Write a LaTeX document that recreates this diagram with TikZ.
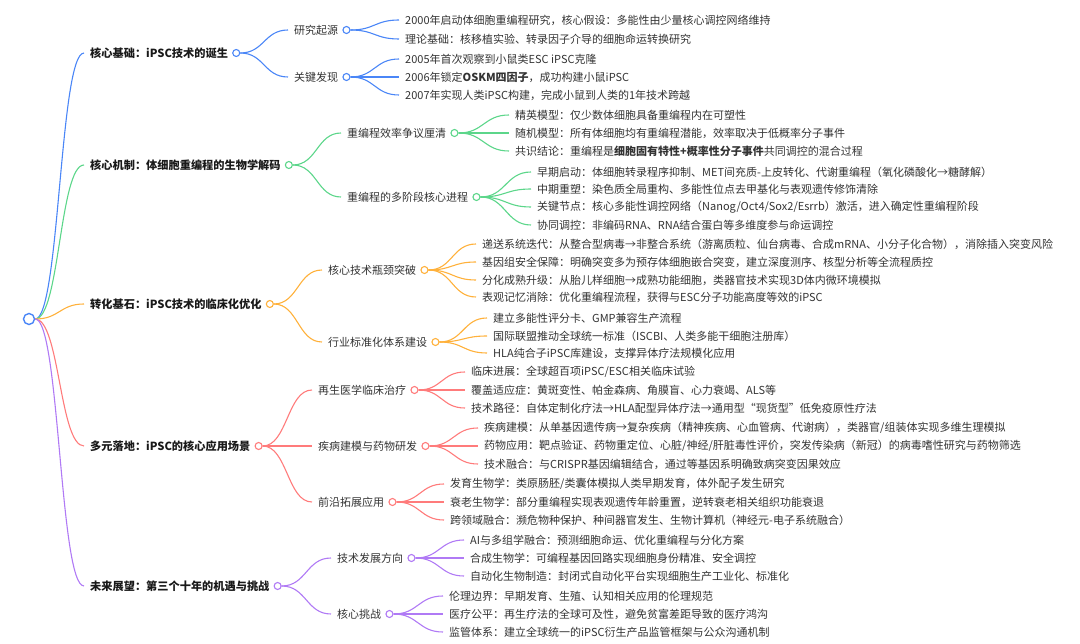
\documentclass[tikz,border=0pt]{standalone}
\usepackage{fontspec}
\setmainfont{Noto Sans CJK SC}
\usetikzlibrary{calc,positioning}
\definecolor{mmblue}{HTML}{4A86F7}
\definecolor{mmgreen}{HTML}{5CD68A}
\definecolor{mmorange}{HTML}{FFB13B}
\definecolor{mmred}{HTML}{FF7B7B}
\definecolor{mmpurple}{HTML}{B07AF5}
\def\lnk[#1](#2)(#3){\draw[#1, line width=1.1pt] let \p1=(#2.east), \p2=($(#3.west)+(-6,0)$) in (\p1) .. controls ({(\x1+\x2)/2},\y1) and ({(\x1+\x2)/2},\y2) .. (\p2);}

\begin{document}
\begin{tikzpicture}[x=1pt, y=-1pt,
	main/.style={anchor=west, inner xsep=0pt, inner ysep=1pt, text=black!90, font=\fontsize{11.2}{13}\selectfont\bfseries},
	sub/.style={anchor=west, inner xsep=0pt, inner ysep=1pt, text=black!80, font=\fontsize{11}{13}\selectfont},
	leaf/.style={anchor=west, inner xsep=0pt, inner ysep=1pt, text=black!80, font=\fontsize{11}{13}\selectfont},
	hub/.style={circle, draw, fill=white, line width=1.1pt, inner sep=0pt, minimum size=7pt}]
		%%%%% START %%%%%
		\useasboundingbox (0,0) rectangle (1080,644);
		
		\node[hub, draw=mmblue, minimum size=11pt, line width=1.4pt] (root) at (29,319) {};
		
		% core basis
		\node[main] (t1) at (90,53) {核心基础：iPSC技术的诞生};
		\node[hub, draw=mmblue, right=4pt of t1] (c1) {};
		\node[sub] (t11) at (294,30) {研究起源};
		\node[hub, draw=mmblue, right=4pt of t11] (c11) {};
		\node[leaf] (l111) at (405,20) {2000年启动体细胞重编程研究，核心假设：多能性由少量核心调控网络维持};
		\node[leaf] (l112) at (405,39) {理论基础：核移植实验、转录因子介导的细胞命运转换研究};
		\node[sub] (t12) at (294,77) {关键发现};
		\node[hub, draw=mmblue, right=4pt of t12] (c12) {};
		\node[leaf] (l121) at (405,59) {2005年首次观察到小鼠类ESC iPSC克隆};
		\node[leaf] (l122) at (405,77) {2006年锁定\textbf{OSKM四因子}，成功构建小鼠iPSC};
		\node[leaf] (l123) at (405,95) {2007年实现人类iPSC构建，完成小鼠到人类的1年技术跨越};
		
		\lnk[mmblue](root)(t1)
		\lnk[mmblue](c1)(t11)
		\lnk[mmblue](c1)(t12)
		\lnk[mmblue](c11)(l111)
		\lnk[mmblue](c11)(l112)
		\lnk[mmblue](c12)(l121)
		\lnk[mmblue](c12)(l122)
		\lnk[mmblue](c12)(l123)
		
		% core mechanism
		\node[main] (t2) at (90,165) {核心机制：体细胞重编程的生物学解码};
		\node[hub, draw=mmgreen, right=4pt of t2] (c2) {};
		\node[sub] (t21) at (347,133) {重编程效率争议厘清};
		\node[hub, draw=mmgreen, right=4pt of t21] (c21) {};
		\node[leaf] (l211) at (515,115) {精英模型：仅少数体细胞具备重编程内在可塑性};
		\node[leaf] (l212) at (515,133) {随机模型：所有体细胞均有重编程潜能，效率取决于低概率分子事件};
		\node[leaf] (l213) at (515,151) {共识结论：重编程是\textbf{细胞固有特性+概率性分子事件}共同调控的混合过程};
		\node[sub] (t22) at (347,197) {重编程的多阶段核心进程};
		\node[hub, draw=mmgreen, right=4pt of t22] (c22) {};
		\node[leaf] (l221) at (537,172) {早期启动：体细胞转录程序抑制、MET间充质-上皮转化、代谢重编程（氧化磷酸化→糖酵解）};
		\node[leaf] (l222) at (537,189) {中期重塑：染色质全局重构、多能性位点去甲基化与表观遗传修饰清除};
		\node[leaf] (l223) at (537,207) {关键节点：核心多能性调控网络（Nanog/Oct4/Sox2/Esrrb）激活，进入确定性重编程阶段};
		\node[leaf] (l224) at (537,225) {协同调控：非编码RNA、RNA结合蛋白等多维度参与命运调控};
		
		\lnk[mmgreen](root)(t2)
		\lnk[mmgreen](c2)(t21)
		\lnk[mmgreen](c2)(t22)
		\lnk[mmgreen](c21)(l211)
		\lnk[mmgreen](c21)(l212)
		\lnk[mmgreen](c21)(l213)
		\lnk[mmgreen](c22)(l221)
		\lnk[mmgreen](c22)(l222)
		\lnk[mmgreen](c22)(l223)
		\lnk[mmgreen](c22)(l224)
		
		% translation
		\node[main] (t3) at (90,304) {转化基石：iPSC技术的临床化优化};
		\node[hub, draw=mmorange, right=4pt of t3] (c3) {};
		\node[sub] (t31) at (328,270) {核心技术瓶颈突破};
		\node[hub, draw=mmorange, right=4pt of t31] (c31) {};
		\node[leaf] (l311) at (482,244) {递送系统迭代：从整合型病毒→非整合系统（游离质粒、仙台病毒、合成mRNA、小分子化合物），消除插入突变风险};
		\node[leaf] (l312) at (482,262) {基因组安全保障：明确突变多为预存体细胞嵌合突变，建立深度测序、核型分析等全流程质控};
		\node[leaf] (l313) at (482,280) {分化成熟升级：从胎儿样细胞→成熟功能细胞，类器官技术实现3D体内微环境模拟};
		\node[leaf] (l314) at (482,297) {表观记忆消除：优化重编程流程，获得与ESC分子功能高度等效的iPSC};
		\node[sub] (t32) at (328,342) {行业标准化体系建设};
		\node[hub, draw=mmorange, right=4pt of t32] (c32) {};
		\node[leaf] (l321) at (493,318) {建立多能性评分卡、GMP兼容生产流程};
		\node[leaf] (l322) at (493,336) {国际联盟推动全球统一标准（ISCBI、人类多能干细胞注册库）};
		\node[leaf] (l323) at (493,353) {HLA纯合子iPSC库建设，支撑异体疗法规模化应用};
		
		\lnk[mmorange](root)(t3)
		\lnk[mmorange](c3)(t31)
		\lnk[mmorange](c3)(t32)
		\lnk[mmorange](c31)(l311)
		\lnk[mmorange](c31)(l312)
		\lnk[mmorange](c31)(l313)
		\lnk[mmorange](c31)(l314)
		\lnk[mmorange](c32)(l321)
		\lnk[mmorange](c32)(l322)
		\lnk[mmorange](c32)(l323)
		
		% applications
		\node[main] (t4) at (90,446) {多元落地：iPSC的核心应用场景};
		\node[hub, draw=mmred, right=4pt of t4] (c4) {};
		\node[sub] (t41) at (318,390) {再生医学临床治疗};
		\node[hub, draw=mmred, right=4pt of t41] (c41) {};
		\node[leaf] (l411) at (471,372) {临床进展：全球超百项iPSC/ESC相关临床试验};
		\node[leaf] (l412) at (471,390) {覆盖适应症：黄斑变性、帕金森病、角膜盲、心力衰竭、ALS等};
		\node[leaf] (l413) at (471,408) {技术路径：自体定制化疗法→HLA配型异体疗法→通用型“现货型”低免疫原性疗法};
		\node[sub] (t42) at (318,446) {疾病建模与药物研发};
		\node[hub, draw=mmred, right=4pt of t42] (c42) {};
		\node[leaf] (l421) at (484,428) {疾病建模：从单基因遗传病→复杂疾病（精神疾病、心血管病、代谢病），类器官/组装体实现多维生理模拟};
		\node[leaf] (l422) at (484,446) {药物应用：靶点验证、药物重定位、心脏/神经/肝脏毒性评价，突发传染病（新冠）的病毒嗜性研究与药物筛选};
		\node[leaf] (l423) at (484,464) {技术融合：与CRISPR基因编辑结合，通过等基因系明确致病突变因果效应};
		\node[sub] (t43) at (318,502) {前沿拓展应用};
		\node[hub, draw=mmred, right=4pt of t43] (c43) {};
		\node[leaf] (l431) at (450,484) {发育生物学：类原肠胚/类囊体模拟人类早期发育，体外配子发生研究};
		\node[leaf] (l432) at (450,502) {衰老生物学：部分重编程实现表观遗传年龄重置，逆转衰老相关组织功能衰退};
		\node[leaf] (l433) at (450,520) {跨领域融合：濒危物种保护、种间器官发生、生物计算机（神经元-电子系统融合）};
		
		\lnk[mmred](root)(t4)
		\lnk[mmred](c4)(t41)
		\lnk[mmred](c4)(t42)
		\lnk[mmred](c4)(t43)
		\lnk[mmred](c41)(l411)
		\lnk[mmred](c41)(l412)
		\lnk[mmred](c41)(l413)
		\lnk[mmred](c42)(l421)
		\lnk[mmred](c42)(l422)
		\lnk[mmred](c42)(l423)
		\lnk[mmred](c43)(l431)
		\lnk[mmred](c43)(l432)
		\lnk[mmred](c43)(l433)
		
		% outlook
		\node[main] (t5) at (90,586) {未来展望：第三个十年的机遇与挑战};
		\node[hub, draw=mmpurple, right=4pt of t5] (c5) {};
		\node[sub] (t51) at (337,558) {技术发展方向};
		\node[hub, draw=mmpurple, right=4pt of t51] (c51) {};
		\node[leaf] (l511) at (470,540) {AI与多组学融合：预测细胞命运、优化重编程与分化方案};
		\node[leaf] (l512) at (470,558) {合成生物学：可编程基因回路实现细胞身份精准、安全调控};
		\node[leaf] (l513) at (470,576) {自动化生物制造：封闭式自动化平台实现细胞生产工业化、标准化};
		\node[sub] (t52) at (337,614) {核心挑战};
		\node[hub, draw=mmpurple, right=4pt of t52] (c52) {};
		\node[leaf] (l521) at (449,596) {伦理边界：早期发育、生殖、认知相关应用的伦理规范};
		\node[leaf] (l522) at (449,614) {医疗公平：再生疗法的全球可及性，避免贫富差距导致的医疗鸿沟};
		\node[leaf] (l523) at (449,632) {监管体系：建立全球统一的iPSC衍生产品监管框架与公众沟通机制};
		
		\lnk[mmpurple](root)(t5)
		\lnk[mmpurple](c5)(t51)
		\lnk[mmpurple](c5)(t52)
		\lnk[mmpurple](c51)(l511)
		\lnk[mmpurple](c51)(l512)
		\lnk[mmpurple](c51)(l513)
		\lnk[mmpurple](c52)(l521)
		\lnk[mmpurple](c52)(l522)
		\lnk[mmpurple](c52)(l523)
		
		%%%%% END %%%%%
\end{tikzpicture}
\end{document}
